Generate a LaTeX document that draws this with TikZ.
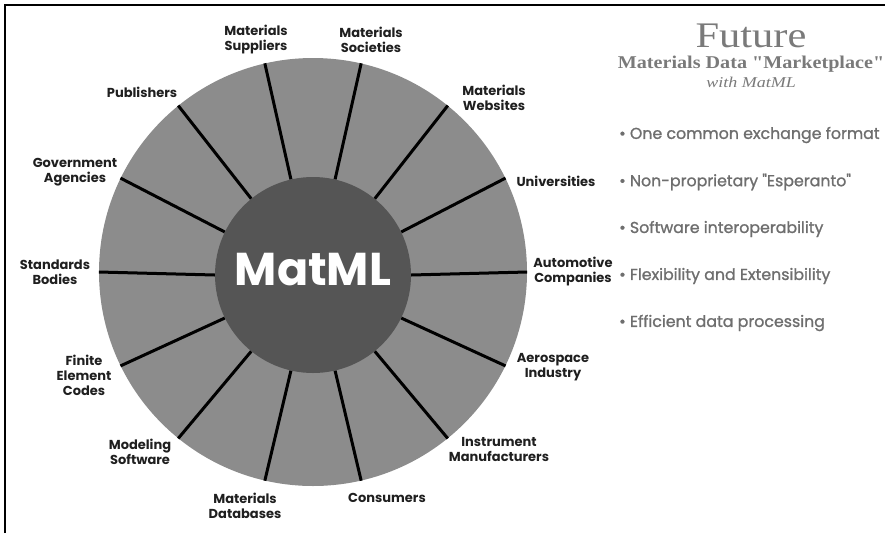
\documentclass[tikz,border=0pt]{standalone}
\usepackage{fontspec}
\setmainfont{Poppins}
\newfontfamily\serifface{Liberation Serif}
\newfontfamily\pointface{Poppins}[FakeBold=1.2]
\usepackage{graphicx}
\usepackage{tikz}
\usetikzlibrary{positioning}
\definecolor{ringgray}{HTML}{8C8C8C}
\definecolor{hubgray}{HTML}{555555}
\definecolor{titlegray}{HTML}{7A7A7A}
\definecolor{pointgray}{HTML}{6E6E6E}

\begin{document}
\begin{tikzpicture}
	[ x=1pt, y=1pt, node distance=47pt,
		ring/.style={circle,fill=ringgray,minimum size=428pt,inner sep=0pt},
		hub/.style={circle,fill=hubgray,minimum size=196pt,inner sep=0pt,text depth=12pt,text=white,font=\bfseries\fontsize{46}{46}\selectfont},
		spoke/.style={line width=3pt},
		member/.style={align=center,inner sep=0pt,text=black!88,font=\bfseries\fontsize{13}{15}\selectfont},
		heading/.style={inner sep=0pt,text=titlegray,font=\serifface},
		point/.style={anchor=west,inner sep=0pt,text=pointgray,font=\pointface\fontsize{15.8}{18}\selectfont}]

	\useasboundingbox (0,0) rectangle (885,-533);
	\draw[line width=2.5pt] (5,-533) -- (5,-5) -- (885,-5);

	\node[ring] (ring) at (313,-272) {};
	\node[hub] (matml) at (313,-275) {MatML};

	\draw[spoke] (matml.0) -- (ring.0);
	\draw[spoke] (matml.26) -- (ring.26);
	\draw[spoke] (matml.51) -- (ring.51);
	\draw[spoke] (matml.77) -- (ring.77);
	\draw[spoke] (matml.103) -- (ring.103);
	\draw[spoke] (matml.129) -- (ring.129);
	\draw[spoke] (matml.154) -- (ring.154);
	\draw[spoke] (matml.180) -- (ring.180);
	\draw[spoke] (matml.206) -- (ring.206);
	\draw[spoke] (matml.231) -- (ring.231);
	\draw[spoke] (matml.257) -- (ring.257);
	\draw[spoke] (matml.283) -- (ring.283);
	\draw[spoke] (matml.309) -- (ring.309);
	\draw[spoke] (matml.334) -- (ring.334);

	\node[member] (suppliers) at (256,-40) {Materials\\Suppliers};
	\node[member] (societies) at (371,-40) {Materials\\Societies};
	\node[member] (publishers) at (142,-92) {Publishers};
	\node[member] (websites) at (494,-98) {Materials\\Websites};
	\node[member] (government) at (75,-172) {Government\\Agencies};
	\node[member] (universities) at (556,-181) {Universities};
	\node[member] (standards) at (55,-272) {Standards\\Bodies};
	\node[member] (automotive) at (573,-272) {Automotive\\Companies};
	\node[member] (finite) at (84,-375) {Finite\\Element\\Codes};
	\node[member] (aerospace) at (553,-367) {Aerospace\\Industry};
	\node[member] (modeling) at (140,-452) {Modeling\\Software};
	\node[member] (instrument) at (499,-449) {Instrument\\Manufacturers};
	\node[member] (databases) at (245,-506) {Materials\\Databases};
	\node[member] (consumers) at (387,-498) {Consumers};

	\node[heading,font=\serifface\fontsize{36}{36}\selectfont] (future) at (751,-36) {\scalebox{1.18}[1]{Future}};
	\node[heading,font=\serifface\bfseries\fontsize{18}{18}\selectfont] (marketplace) [below=8pt of future] {\scalebox{1.12}[1]{Materials Data "Marketplace"}};
	\node[heading,font=\serifface\itshape\fontsize{15}{15}\selectfont] (with matml) [below=4pt of marketplace] {\scalebox{1.2}[1]{with MatML}};

	\node[point] (one format) at (619,-135) {\textbullet\ One common exchange format};
	\node[point] (esperanto) [below=of one format.west,anchor=west] {\textbullet\ Non-proprietary "Esperanto"};
	\node[point] (interop) [below=of esperanto.west,anchor=west] {\textbullet\ Software interoperability};
	\node[point] (flexibility) [below=of interop.west,anchor=west] {\textbullet\ Flexibility and Extensibility};
	\node[point] (efficiency) [below=of flexibility.west,anchor=west] {\textbullet\ Efficient data processing};
\end{tikzpicture}
\end{document}
